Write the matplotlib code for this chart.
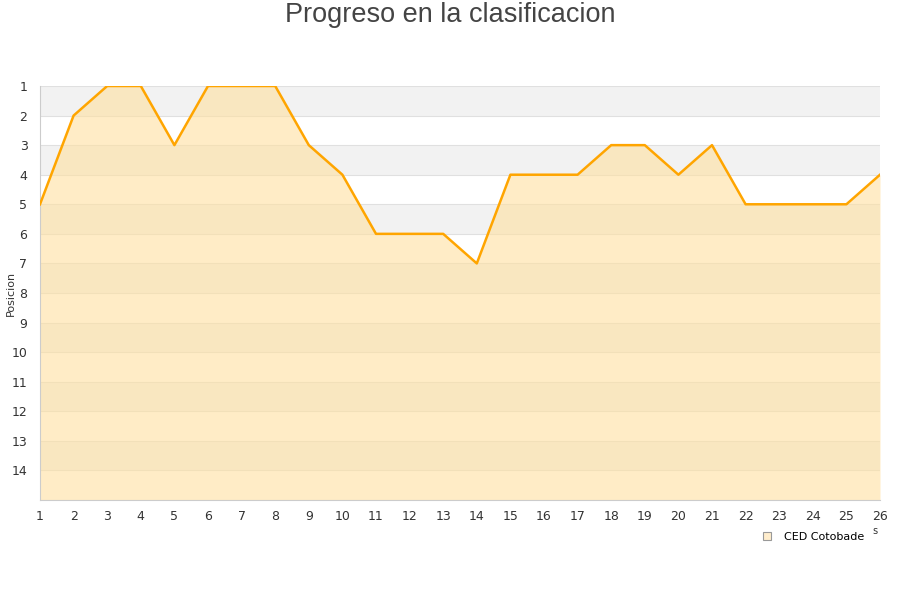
import matplotlib
matplotlib.use("Agg")
import matplotlib.pyplot as plt
from matplotlib.lines import Line2D

jornadas = list(range(1, 27))
posicion = [5, 2, 1, 1, 3, 1, 1, 1, 3, 4, 6, 6, 6, 7, 4, 4, 4, 3, 3, 4, 3, 5, 5, 5, 5, 4]
equipo = "CED Cotobade"
y_ticks = list(range(1, 15))

fig = plt.figure(figsize=(9, 6), dpi=100)
ax = fig.add_axes([40/900, 1-500/600, 840/900, 414/600])

ymax = 15
for k in range(1, ymax, 2):
    ax.axhspan(k, k+1, color="#f2f2f2", zorder=0, lw=0)
for k in range(1, ymax+1):
    ax.axhline(k, color="#e0e0e0", lw=0.8, zorder=1)

ax.fill_between(jornadas, posicion, ymax, color="#ffe0a0", alpha=0.6, lw=0, zorder=2)
ax.plot(jornadas, posicion, color="#ffa500", lw=1.8, zorder=3)

ax.set_xlim(1, 26)
ax.set_ylim(ymax, 1)
ax.set_xticks(jornadas)
ax.set_yticks(y_ticks)
ax.tick_params(axis="both", length=0, labelsize=9, colors="#333333")
ax.tick_params(axis="x", pad=7)
ax.tick_params(axis="y", pad=9)
for s in ["top", "right"]:
    ax.spines[s].set_visible(False)
ax.spines["left"].set_color("#cccccc")
ax.spines["bottom"].set_color("#cccccc")

fig.text(11/900, 1-293/600, "Posicion", rotation=90, ha="center", va="center",
         fontsize=8, color="#333333")
fig.text(875/900, 1-531/600, "s", ha="center", va="center", fontsize=7, color="#333333")

fig.text(0.5, 1-15/600, "Progreso en la clasificacion", ha="center", va="center",
         fontsize=19.5, color="#444444", family="Liberation Sans")

handle = Line2D([], [], marker="s", linestyle="none", markersize=6,
                markerfacecolor="#ffedcc", markeredgecolor="#999999", markeredgewidth=0.8)
fig.legend([handle], [equipo], loc="center", bbox_to_anchor=(810/900, 1-537/600),
           frameon=False, fontsize=8, handletextpad=0.5, borderaxespad=0)

fig.savefig("out.png", dpi=100)
